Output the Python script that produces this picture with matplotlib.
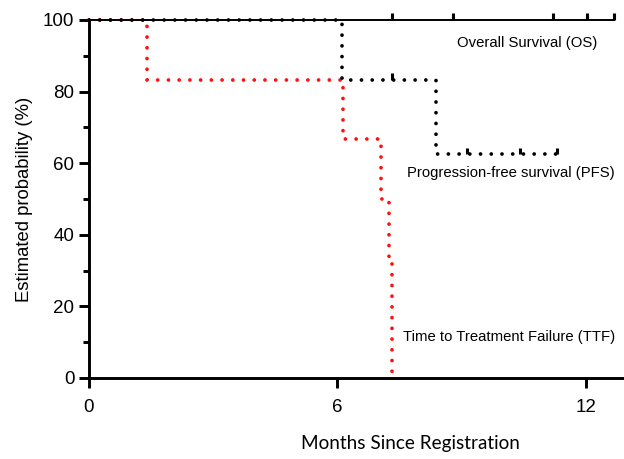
import matplotlib
matplotlib.use("Agg")
import matplotlib.pyplot as plt
from matplotlib.ticker import MultipleLocator

# ---- data ----
os_times = [0, 12.67]
os_surv = [100, 100]
os_censor = [7.32, 8.8, 11.2, 12.02, 12.67]

pfs_times = [0, 6.1, 8.38, 11.3]
pfs_surv = [100, 83.3, 62.5, 62.5]
pfs_censor_t = [7.32, 9.14, 10.4, 11.3]
pfs_censor_s = [83.3, 62.5, 62.5, 62.5]

ttf_times = [0, 1.39, 6.13, 7.05, 7.25, 7.31]
ttf_surv = [100, 83.3, 66.7, 50, 33.3, 0]

x_ticks = [0, 6, 12]
y_ticks = [0, 20, 40, 60, 80, 100]

labels = ["Overall Survival (OS)", "Progression-free survival (PFS)",
          "Time to Treatment Failure (TTF)"]

plt.rcParams['font.family'] = ['Liberation Sans', 'DejaVu Sans']

fig = plt.figure(figsize=(6.24, 4.59), dpi=100)
ax = fig.add_axes([89/624, 81/459, 1 - 89/624, 358/459])

lw = 2.7
dot = (0, (0.01, 2.85))
ax.plot(ttf_times, ttf_surv, drawstyle='steps-post', color='#ff0f0f', lw=lw,
        linestyle=dot, dash_capstyle='round',
        clip_on=False, zorder=2)
ax.plot(pfs_times, pfs_surv, drawstyle='steps-post', color='black', lw=lw,
        linestyle=dot, dash_capstyle='round', clip_on=False, zorder=3)
ax.vlines(pfs_censor_t, pfs_censor_s, [s + 1.8 for s in pfs_censor_s],
          color='black', lw=2.2, clip_on=False, zorder=3)
ax.plot(os_times, os_surv, color='black', lw=1.4, clip_on=False, zorder=4)
ax.vlines(os_censor, 100, 102, color='black', lw=2.2, clip_on=False, zorder=4)

ax.set_xlim(0, 12.92)
ax.set_ylim(0, 100)
ax.set_xticks(x_ticks)
ax.set_yticks(y_ticks)
ax.yaxis.set_minor_locator(MultipleLocator(10))

for s in ['top', 'right']:
    ax.spines[s].set_visible(False)
for s in ['left', 'bottom']:
    ax.spines[s].set_linewidth(2.1)

ax.tick_params(axis='both', which='major', direction='out', length=7, width=2.1,
               labelsize=13.5, pad=3.5)
ax.tick_params(axis='y', which='minor', direction='out', length=4, width=2.1)
ax.tick_params(axis='x', pad=8)

ax.set_ylabel("Estimated probability (%)", fontsize=13.3, labelpad=7)
fig.text(410/624, 1 - 444/459, "Months Since Registration", fontsize=13.6,
         family=['Lato', 'DejaVu Sans'], ha='center', va='center')

ax.text(8.89, 93.6, labels[0], fontsize=10.7, ha='left', va='center')
ax.text(7.68, 57.3, labels[1], fontsize=10.7, ha='left', va='center')
ax.text(7.58, 11.5, labels[2], fontsize=10.7, ha='left', va='center')

fig.savefig("out.png", dpi=100)
